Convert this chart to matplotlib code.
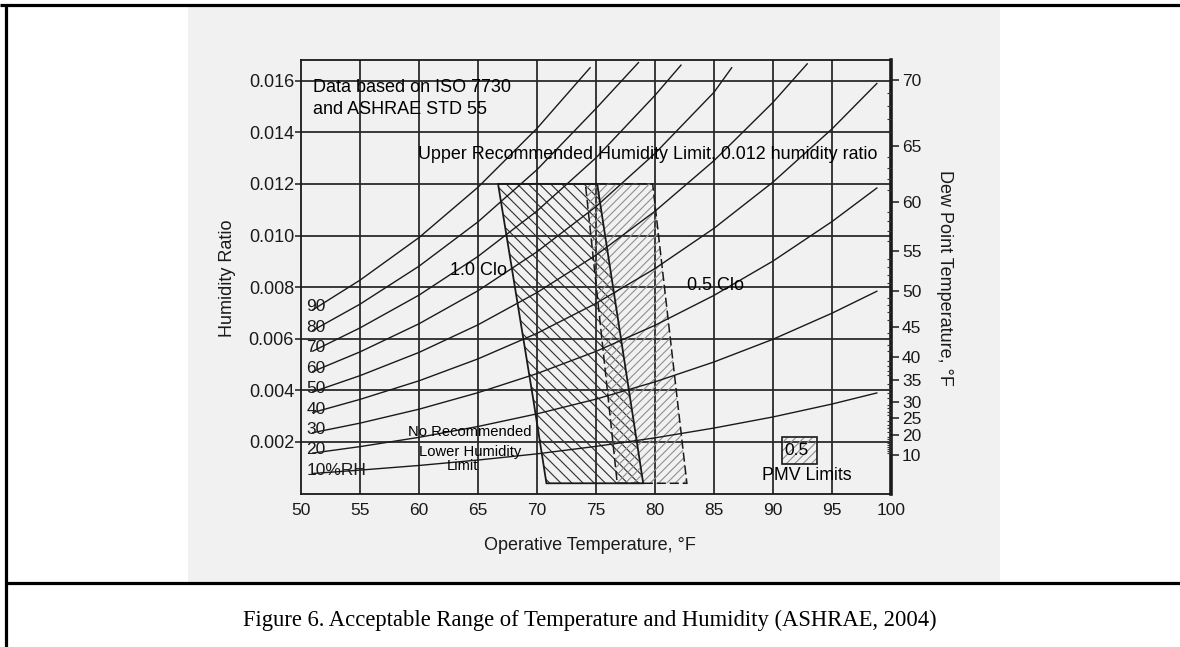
import numpy as np
import matplotlib
matplotlib.use('Agg')
import matplotlib.pyplot as plt
from matplotlib.patches import Polygon, Rectangle
from matplotlib.lines import Line2D

plt.rcParams['font.family'] = ['Liberation Sans', 'DejaVu Sans']
plt.rcParams['hatch.linewidth'] = 0.8

# ---------------- data ----------------
rh_labels = ['90', '80', '70', '60', '50', '40', '30', '20', '10%RH']

rh90_t = [51, 55, 60, 65, 70, 74.5]
rh90_w = [0.00712, 0.00827, 0.00992, 0.01187, 0.01415, 0.01650]
rh80_t = [51, 55, 60, 65, 70, 75, 78.6]
rh80_w = [0.00632, 0.00734, 0.00881, 0.01053, 0.01255, 0.01492, 0.01670]
rh70_t = [51, 55, 60, 65, 70, 75, 80, 82.2]
rh70_w = [0.00552, 0.00642, 0.00769, 0.00919, 0.01095, 0.01301, 0.01543, 0.01660]
rh60_t = [51, 55, 60, 65, 70, 75, 80, 85, 86.5]
rh60_w = [0.00473, 0.00549, 0.00658, 0.00786, 0.00937, 0.01112, 0.01318, 0.01555, 0.01650]
rh50_t = [51, 55, 60, 65, 70, 75, 80, 85, 90, 92.9]
rh50_w = [0.00394, 0.00457, 0.00547, 0.00654, 0.00779, 0.00924, 0.01094, 0.01290, 0.01516, 0.01665]
rh40_t = [51, 55, 60, 65, 70, 75, 80, 85, 90, 95, 98.8]
rh40_w = [0.00314, 0.00365, 0.00437, 0.00522, 0.00621, 0.00737, 0.00872, 0.01028, 0.01207, 0.01413, 0.01589]
rh30_t = [51, 55, 60, 65, 70, 75, 80, 85, 90, 95, 98.8]
rh30_w = [0.00236, 0.00273, 0.00327, 0.00391, 0.00465, 0.00551, 0.00652, 0.00768, 0.00901, 0.01054, 0.01184]
rh20_t = [51, 55, 60, 65, 70, 75, 80, 85, 90, 95, 98.8]
rh20_w = [0.00157, 0.00182, 0.00218, 0.00260, 0.00309, 0.00366, 0.00433, 0.00510, 0.00598, 0.00699, 0.00784]
rh10_t = [51, 55, 60, 65, 70, 75, 80, 85, 90, 95, 98.8]
rh10_w = [0.00078, 0.00091, 0.00109, 0.00130, 0.00154, 0.00183, 0.00216, 0.00254, 0.00297, 0.00347, 0.00390]

# comfort zones (operative temperature F, humidity ratio)
clo10_t = [66.7, 75.1, 79.0, 70.8, 69.7]
clo10_w = [0.0120, 0.0120, 0.0004, 0.0004, 0.0036]
clo05_t = [74.1, 79.8, 82.7, 76.8]
clo05_w = [0.0120, 0.0120, 0.0004, 0.0004]

# right axis: dew point temperature ticks
dp_labels = ['10', '20', '25', '30', '35', '40', '45', '50', '55', '60', '65', '70']
dp_values = [10, 20, 25, 30, 35, 40, 45, 50, 55, 60, 65, 70]
dp_w = [0.00150, 0.00227, 0.00293, 0.00355, 0.00440, 0.00530, 0.00646,
        0.00786, 0.00941, 0.01131, 0.01348, 0.01604]

x_ticks = [50, 55, 60, 65, 70, 75, 80, 85, 90, 95, 100]
y_ticks = [0.002, 0.004, 0.006, 0.008, 0.010, 0.012, 0.014, 0.016]
y_ticklabels = ['0.002', '0.004', '0.006', '0.008', '0.010', '0.012', '0.014', '0.016']

# legend box for PMV limits
pmv_box_t = [90.8, 93.7]
pmv_box_w = [0.00115, 0.00219]

# ---------------- figure ----------------
W_PX, H_PX = 1180, 647
fig = plt.figure(figsize=(W_PX / 100, H_PX / 100), dpi=100)
fig.patch.set_facecolor('white')

# scanned paper background
fig.patches.append(Rectangle((188 / W_PX, 1 - 583 / H_PX), (1000 - 188) / W_PX,
                             (583 - 5) / H_PX, transform=fig.transFigure,
                             facecolor='#f1f1f1', edgecolor='none', zorder=-10))
# outer frame lines
lk = dict(transform=fig.transFigure, color='black', lw=2.3, solid_capstyle='butt')
fig.lines.append(Line2D([0, 1], [1 - 5 / H_PX, 1 - 5 / H_PX], **lk))
fig.lines.append(Line2D([6 / W_PX, 6 / W_PX], [0, 1 - 5 / H_PX], **lk))
fig.lines.append(Line2D([6 / W_PX, 1], [1 - 583 / H_PX, 1 - 583 / H_PX], **lk))

ax = fig.add_axes([301 / W_PX, 1 - 493.6 / H_PX, (891 - 301) / W_PX, (493.6 - 60) / H_PX])
ax.set_facecolor('none')
ax.set_xlim(50, 100)
ax.set_ylim(0, 0.0168)

grid_c = '#2a2a2a'
for t in x_ticks[1:-1]:
    ax.axvline(t, color=grid_c, lw=1.3, zorder=1)
for w in y_ticks:
    ax.axhline(w, color=grid_c, lw=1.3, zorder=1)

# comfort zones
ax.add_patch(Polygon(list(zip(clo10_t, clo10_w)), closed=True, facecolor='none',
                     edgecolor='#2e2e2e', hatch='\\\\\\', lw=0, zorder=2))
ax.add_patch(Polygon(list(zip(clo05_t, clo05_w)), closed=True, facecolor='none',
                     edgecolor='#8f8f8f', hatch='////', lw=0, zorder=2))
ax.add_patch(Polygon(list(zip(clo10_t, clo10_w)), closed=True, facecolor='none',
                     edgecolor='#1a1a1a', lw=1.3, zorder=3))
ax.add_patch(Polygon(list(zip(clo05_t, clo05_w)), closed=True, facecolor='none',
                     edgecolor='#1a1a1a', lw=1.1, ls=(0, (6, 2.5)), zorder=3))

# relative humidity curves
rh_t = [rh90_t, rh80_t, rh70_t, rh60_t, rh50_t, rh40_t, rh30_t, rh20_t, rh10_t]
rh_w = [rh90_w, rh80_w, rh70_w, rh60_w, rh50_w, rh40_w, rh30_w, rh20_w, rh10_w]
for lab, ts, ws in zip(rh_labels, rh_t, rh_w):
    ax.plot(ts, ws, color='#1a1a1a', lw=1.0, zorder=4)
    ax.text(50.45, ws[0] + 0.00013, lab, ha='left', va='center', fontsize=12.5,
            color='#1a1a1a', zorder=5)

# annotations
ax.text(51.0, 0.01573, 'Data based on ISO 7730', fontsize=13, ha='left', va='center')
ax.text(51.0, 0.01487, 'and ASHRAE STD 55', fontsize=13, ha='left', va='center')
ax.text(59.9, 0.01313, 'Upper Recommended Humidity Limit, 0.012 humidity ratio',
        fontsize=12.9, ha='left', va='center', zorder=6)
ax.text(62.6, 0.00863, '1.0 Clo', fontsize=13, ha='left', va='center', zorder=6)
ax.text(82.7, 0.00805, '0.5 Clo', fontsize=13, ha='left', va='center', zorder=6)
ax.text(64.3, 0.00239, 'No Recommended', fontsize=10.6, ha='center', va='center', zorder=6)
ax.text(64.3, 0.00161, 'Lower Humidity', fontsize=10.6, ha='center', va='center', zorder=6)
ax.text(63.7, 0.00107, 'Limit', fontsize=10.6, ha='center', va='center', zorder=6)

ax.add_patch(Rectangle((pmv_box_t[0], pmv_box_w[0]), pmv_box_t[1] - pmv_box_t[0],
                       pmv_box_w[1] - pmv_box_w[0], facecolor='none',
                       edgecolor='#8f8f8f', hatch='////', lw=0, zorder=5))
ax.add_patch(Rectangle((pmv_box_t[0], pmv_box_w[0]), pmv_box_t[1] - pmv_box_t[0],
                       pmv_box_w[1] - pmv_box_w[0], facecolor='none',
                       edgecolor='#1a1a1a', lw=1.2, zorder=6))
ax.text(sum(pmv_box_t) / 2 - 0.3, sum(pmv_box_w) / 2, '0.5', fontsize=12.5,
        ha='center', va='center', zorder=7)
ax.text(92.9, 0.00072, 'PMV Limits', fontsize=12.8, ha='center', va='center', zorder=7)

# axes styling
ax.set_xticks(x_ticks)
ax.set_xticklabels([str(v) for v in x_ticks], fontsize=12.5)
ax.set_yticks(y_ticks)
ax.set_yticklabels(y_ticklabels, fontsize=13)
ax.tick_params(axis='x', length=0, pad=7, colors='#1a1a1a')
ax.tick_params(axis='y', length=4, width=1.1, pad=1, direction='out', colors='#1a1a1a')
for side in ['left', 'bottom', 'top']:
    ax.spines[side].set_linewidth(1.3)
    ax.spines[side].set_color('#1a1a1a')
ax.spines['right'].set_linewidth(2.6)
ax.spines['right'].set_color('#1a1a1a')

ax2 = ax.twinx()
ax2.set_ylim(ax.get_ylim())
ax2.set_yticks(dp_w)
ax2.set_yticklabels(dp_labels, fontsize=12.5)
ax2.set_yticks(np.interp(np.arange(10, 71, 1), dp_values, dp_w), minor=True)
ax2.tick_params(axis='y', which='major', length=6, width=1.1, pad=2,
                direction='out', colors='#1a1a1a')
ax2.tick_params(axis='y', which='minor', length=3, width=0.8, direction='in',
                colors='#333333')
for s in ax2.spines.values():
    s.set_visible(False)

# axis titles
fig.text(228 / W_PX, 1 - 278 / H_PX, 'Humidity Ratio', rotation=90, ha='center',
         va='center', fontsize=13, color='#1a1a1a')
fig.text(944 / W_PX, 1 - 278 / H_PX, 'Dew Point Temperature, °F', rotation=270,
         ha='center', va='center', fontsize=13, color='#1a1a1a')
fig.text(590 / W_PX, 1 - 545 / H_PX, 'Operative Temperature, °F', ha='center',
         va='center', fontsize=13, color='#1a1a1a')

# caption
fig.text(590 / W_PX, 1 - 620 / H_PX,
         'Figure 6. Acceptable Range of Temperature and Humidity (ASHRAE, 2004)',
         ha='center', va='center', fontsize=16.3, family=['Liberation Serif', 'DejaVu Serif'])

fig.savefig('out.png', dpi=100)
